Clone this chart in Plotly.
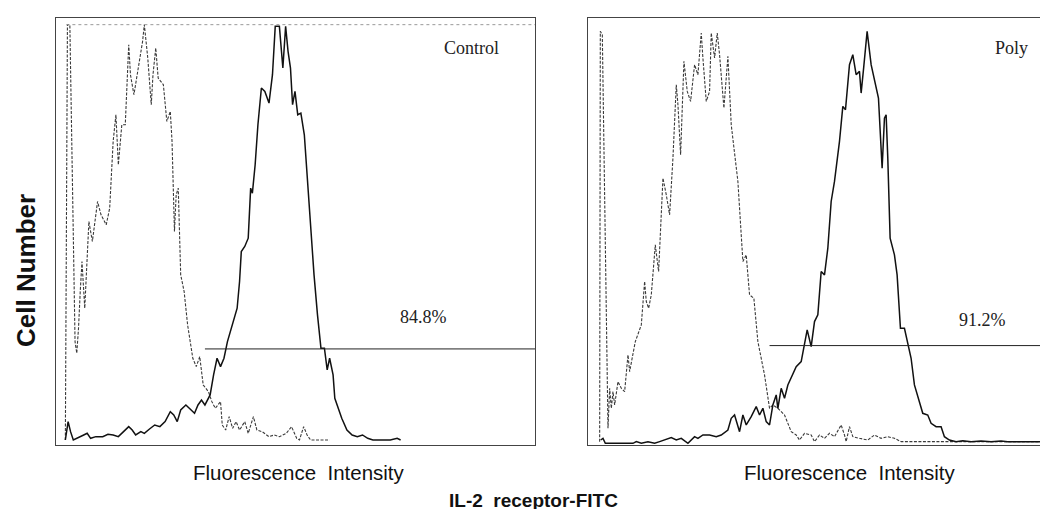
import plotly.graph_objects as go

# ---------------- data (channel, cell count) ----------------
ctrl_iso_ch = [5.4, 6.6, 8, 11, 12, 13, 14, 15, 16.6, 19, 21, 24, 26, 29, 31, 33, 34.6, 36, 38, 40, 42, 43, 45, 47, 50, 51, 53, 55, 56, 57.6, 59, 62, 64, 66, 67, 68.4, 69.4, 70.6, 72, 74, 76, 79, 81, 83, 85, 88, 90, 92, 95, 96, 98, 100, 102, 104, 106, 109, 111, 114, 116, 119, 123, 126, 129, 133, 136, 139, 140.6, 143, 145, 147, 151, 155, 158]
ctrl_iso_n = [1.5, 126, 126, 31, 27.5, 35, 46, 55, 41, 67, 61, 73, 69, 66, 71, 91, 99, 84, 96, 96, 120, 111, 105, 111, 121, 126, 116, 102, 111, 119, 110, 108, 97, 100, 91, 64, 75, 77, 51, 46, 36, 26, 23.5, 26.5, 18, 16, 13, 11, 13, 6, 4.5, 8.5, 5, 7, 4.5, 7, 3.5, 8.5, 4.5, 4, 2.5, 3, 2.5, 3.5, 5.5, 2, 1.5, 5.5, 3, 1.5, 1.5, 1.5, 1.5]

ctrl_il2_ch = [5.4, 7, 8.4, 10, 16, 18, 20, 23, 27, 30, 33, 36, 39, 42, 44, 46, 49, 51, 54, 57, 60, 63, 66, 68, 70, 72, 75, 77, 80, 82, 84, 86, 89, 91, 93, 95, 97, 99, 101, 103, 104.6, 106, 107, 109, 111, 112.4, 113.4, 115, 116.6, 118.6, 120.6, 123, 125, 126.6, 129, 131, 132.6, 134, 135.4, 136.6, 138, 139.6, 141.4, 143.4, 145, 147, 149, 151, 153, 155, 156.6, 158, 160, 161, 163, 165, 168, 171, 174, 177, 180, 183, 187, 193, 197, 199]
ctrl_il2_n = [1.5, 7, 4, 1.5, 3, 3.5, 2, 2.5, 2.5, 3.2, 3, 2.5, 4, 5.5, 4.5, 3, 4, 3.5, 4.8, 6, 5.5, 7, 10, 9, 7, 10.5, 12, 11, 9.5, 12, 13.5, 12, 15, 21, 26, 23.5, 26, 31, 34.5, 38, 41, 49, 58, 59.5, 62, 77, 75.5, 84, 96, 107, 106, 102.5, 111, 125.5, 125.5, 113, 125.5, 118, 113, 102, 106, 99, 99.5, 93, 81, 63, 51, 39, 29, 29, 22.5, 26, 21, 14, 11, 8, 4.5, 3, 2.5, 3, 2, 1.5, 1.5, 1.5, 2, 1.5]

poly_iso_ch = [7, 7.4, 8.6, 11.6, 12, 13, 14, 15, 16, 18, 20, 22, 24, 25, 26, 28.4, 32, 34, 35, 36.4, 38, 40.4, 42.4, 45, 47, 49, 51, 53, 54, 55.6, 57.6, 59.6, 61.6, 64, 66, 68, 69, 71, 73, 74, 76, 77.6, 79, 81.6, 84, 86, 90, 93, 95, 97, 99.6, 102, 106, 109, 111, 114, 118, 122, 125, 127, 130, 134, 136, 139, 142, 145, 148, 152, 154, 155, 157, 159, 163, 168, 172, 176, 180, 184, 188, 230, 281]
poly_iso_n = [1, 124, 123, 5.5, 5, 17, 11, 16, 12, 19, 17, 16, 27, 22, 25, 31, 36, 49, 43, 41, 45, 60, 52, 80, 75, 69, 86, 108, 102, 87, 115, 106, 103, 114, 111, 123.5, 116, 103, 106, 123.5, 116, 123.5, 117, 101, 116.5, 96, 79, 55, 57, 45, 44, 31, 21, 11, 12, 11, 9, 4, 3, 1.5, 3.5, 3, 1, 3, 2, 3.5, 2.5, 6, 3, 1, 5.5, 2.5, 2, 1.5, 3, 2, 2.5, 2, 1, 1, 1]

poly_il2_ch = [7.6, 9, 10.4, 27, 29, 32, 36, 40, 43, 46, 50, 53, 56, 60, 64, 66, 69, 73, 77, 80, 84, 86, 88, 91, 93, 95, 98, 101, 103, 105, 107, 109, 111, 113, 114, 116, 118, 120, 122, 125, 128, 130, 131.6, 134, 136, 138, 140, 142, 144, 146, 148, 151, 153, 154.6, 157, 159, 161, 163, 164, 165.6, 167.6, 170, 172, 174.4, 176.6, 178, 179, 180, 181.4, 184, 185.6, 187.6, 190, 192, 194, 196, 199, 201, 204, 206, 209, 212, 214, 217, 221, 225, 230, 236, 242, 248, 252, 281]
poly_il2_n = [1.5, 2, 0.5, 0.5, 1, 0.5, 1, 0.5, 1, 1.5, 2.2, 1.5, 2, 0.5, 2.5, 2, 3, 3, 2.5, 3, 4.5, 8, 9, 4, 9, 6, 8.5, 11.5, 9, 11, 7, 6, 12, 15, 11, 17, 14, 18, 20, 23.5, 25, 31, 34.5, 29.5, 37, 39, 52, 51, 59, 73, 79, 91, 101.5, 100.5, 114, 117, 111, 112, 105.5, 113.5, 124, 114, 109, 104, 83, 98, 99, 86, 62, 57, 51, 35, 35, 30, 26, 18, 13, 9.5, 9, 6.5, 5.5, 5.5, 2.5, 1.5, 1, 1.3, 1, 1.2, 1, 1.2, 1, 1]

panel_names = ["Control", "Poly"]
gate_pct = ["84.8%", "91.2%"]
gate_start = [86, 109]
gate_level = [28.8, 29.8]
x_max = [276.6, 281]
y_max = 128

# ---------------- figure ----------------
W, H = 1048, 509
fig = go.Figure()

def px_x(p):
    return p / W

def px_y(p):
    return 1 - p / H

dash_style = "3px,1.5px"
iso_color = "#3a3a3a"

fig.add_trace(go.Scatter(x=ctrl_iso_ch, y=ctrl_iso_n, mode="lines", xaxis="x", yaxis="y",
                         line=dict(color=iso_color, width=1.1, dash=dash_style), showlegend=False))
fig.add_trace(go.Scatter(x=ctrl_il2_ch, y=ctrl_il2_n, mode="lines", xaxis="x", yaxis="y",
                         line=dict(color="#111111", width=1.5), showlegend=False))
fig.add_trace(go.Scatter(x=poly_iso_ch, y=poly_iso_n, mode="lines", xaxis="x2", yaxis="y2",
                         line=dict(color=iso_color, width=1.1, dash=dash_style), showlegend=False))
fig.add_trace(go.Scatter(x=poly_il2_ch, y=poly_il2_n, mode="lines", xaxis="x2", yaxis="y2",
                         line=dict(color="#111111", width=1.5), showlegend=False))

ydom = [px_y(437), px_y(10)]
common_ax = dict(showgrid=False, zeroline=False, showticklabels=False, ticks="",
                 showline=True, linecolor="#444444", linewidth=1)

fig.update_layout(
    width=W, height=H,
    margin=dict(l=0, r=0, t=0, b=0),
    paper_bgcolor="white", plot_bgcolor="white",
    xaxis=dict(domain=[px_x(48), px_x(527)], range=[0, x_max[0]], mirror=True, anchor="y", **common_ax),
    yaxis=dict(domain=ydom, range=[0, y_max], mirror=True, anchor="x", **common_ax),
    xaxis2=dict(domain=[px_x(580), 1.0], range=[0, x_max[1]], mirror=True, anchor="y2", **common_ax),
    yaxis2=dict(domain=ydom, range=[0, y_max], mirror=False, anchor="x2", **common_ax),
)

# gate lines
for i, (xr, yr) in enumerate([("x", "y"), ("x2", "y2")]):
    fig.add_shape(type="line", xref=xr, yref=yr, x0=gate_start[i], x1=x_max[i],
                  y0=gate_level[i], y1=gate_level[i], line=dict(color="#222222", width=1))

# faint dotted top line in left panel
fig.add_shape(type="line", xref="x", yref="y", x0=6, x1=x_max[0], y0=126, y1=126,
              line=dict(color="#9a9a9a", width=1, dash="dot"))

serif = "Liberation Serif"
sans = "Liberation Sans"

def label(text, x, y, xref, yref, font, angle=0):
    fig.add_annotation(xref=xref, yref=yref, x=x, y=y, text=text, showarrow=False,
                       xanchor="center", yanchor="middle", textangle=angle, font=font)

serif_font = dict(family=serif, size=18, color="#222222")
label(panel_names[0], 240, 119, "x", "y", serif_font)
label(panel_names[1], 254, 119, "x2", "y2", serif_font)
label(gate_pct[0], 212, 38.5, "x", "y", serif_font)
label(gate_pct[1], 237, 37.5, "x2", "y2", serif_font)

label("<b>Cell Number</b>", px_x(18), px_y(263), "paper", "paper",
      dict(family=sans, size=26, color="#111111"), angle=-90)
label("Fluorescence&nbsp; Intensity", px_x(291), px_y(464), "paper", "paper",
      dict(family=sans, size=20.5, color="#111111"))
label("Fluorescence&nbsp; Intensity", px_x(842), px_y(464), "paper", "paper",
      dict(family=sans, size=20.5, color="#111111"))
label("<b>IL-2&nbsp; receptor-FITC</b>", px_x(525), px_y(492), "paper", "paper",
      dict(family=sans, size=19, color="#111111"))

fig.write_html("out.html")
